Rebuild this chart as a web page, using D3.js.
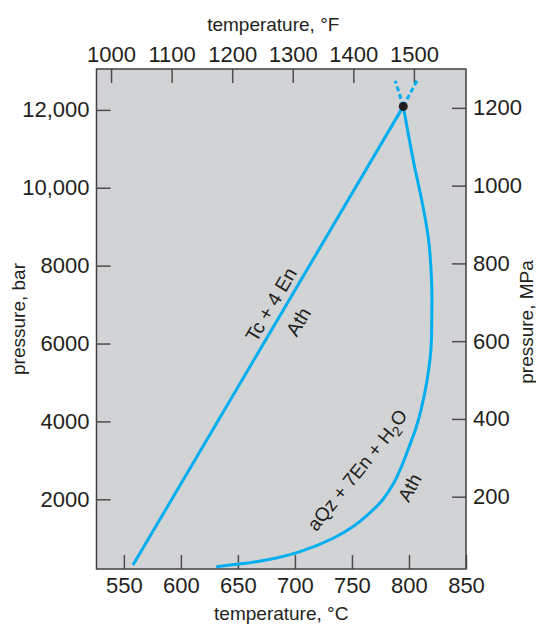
<!DOCTYPE html>
<html>
<head>
<meta charset="utf-8">
<script src="https://cdn.jsdelivr.net/npm/d3@7"></script>
<style>
    body { margin: 0; background: #fff; }
    svg { display: block; font-family: "Liberation Sans", Arial, sans-serif; }
</style>
</head>
<body>
<div id="chart"></div>
<script>
// axis ticks
const celsiusTicks = [550, 600, 650, 700, 750, 800, 850];
const fahrenheitTicks = [1000, 1100, 1200, 1300, 1400, 1500];
const barTicks = [2000, 4000, 6000, 8000, 10000, 12000];
const mpaTicks = [200, 400, 600, 800, 1000, 1200];

// reaction curves, [temperature °C, pressure bar]
const tcEnLine = [[558, 310], [795, 12090]];
const qzEnCurve = [
    [631, 270], [675, 440], [704.5, 655], [733.5, 1000], [751.4, 1310],
    [763, 1580], [777, 1990], [786.5, 2410], [794, 2880], [800, 3340],
    [806, 3820], [810.5, 4290], [815.5, 4990], [819.2, 5830],
    [820, 6690], [819.9, 7550], [817.2, 8660], [812, 9560],
    [804, 10670], [795, 12090]
];
const tcEnMetastable = [[795, 12090], [807, 12750]];
const qzEnMetastable = [[795, 12090], [788, 12750]];
const invariantPoint = [795, 12090];

const margin = { top: 69, right: 70, bottom: 56, left: 96.5 };
const width = 536 - margin.left - margin.right;
const height = 625 - margin.top - margin.bottom;

const svg = d3.select("#chart")
    .append("svg")
    .attr("width", 536)
    .attr("height", 625)
    .append("g")
    .attr("transform", `translate(${margin.left},${margin.top})`);

const x = d3.scaleLinear().domain([526, 850]).range([0, width]);
const xF = d3.scaleLinear().domain([976, 1586]).range([0, width]);
const y = d3.scaleLinear().domain([210, 13050]).range([height, 0]);
const yM = d3.scaleLinear().domain([14, 1300]).range([height, 0]);

const ink = "#231f20";
const tickColor = "#4d4d4f";
const blue = "#00aeef";

svg.append("rect")
    .attr("width", width)
    .attr("height", height)
    .attr("fill", "#d1d3d4");

const barFormat = d => d >= 10000 ? d3.format(",")(d) : String(d);

function styleAxis(g) {
    g.select(".domain").remove();
    g.selectAll(".tick line").attr("stroke", tickColor).attr("stroke-width", 1.5);
    g.selectAll(".tick text")
        .attr("fill", ink)
        .style("font-size", "22px")
        .style("font-family", "\"Liberation Sans\", Arial, sans-serif");
}

svg.append("g")
    .attr("transform", `translate(0,${height})`)
    .call(d3.axisBottom(x).tickValues(celsiusTicks).tickSize(-14).tickPadding(8))
    .call(styleAxis);

svg.append("g")
    .call(d3.axisTop(xF).tickValues(fahrenheitTicks).tickSize(-14).tickPadding(7).tickFormat(d3.format("d")))
    .call(styleAxis);

svg.append("g")
    .call(d3.axisLeft(y).tickValues(barTicks).tickSize(-14).tickPadding(7).tickFormat(barFormat))
    .call(styleAxis);

svg.append("g")
    .attr("transform", `translate(${width},0)`)
    .call(d3.axisRight(yM).tickValues(mpaTicks).tickSize(-14).tickPadding(7).tickFormat(d3.format("d")))
    .call(styleAxis);

svg.append("rect")
    .attr("width", width)
    .attr("height", height)
    .attr("fill", "none")
    .attr("stroke", "#414042")
    .attr("stroke-width", 1.5);

// axis titles
const titleSize = "19px";
svg.append("text")
    .attr("x", width / 2 - 8)
    .attr("y", -38)
    .attr("text-anchor", "middle")
    .attr("fill", ink)
    .style("font-size", titleSize)
    .text("temperature, °F");

svg.append("text")
    .attr("x", width / 2)
    .attr("y", height + 51)
    .attr("text-anchor", "middle")
    .attr("fill", ink)
    .style("font-size", titleSize)
    .text("temperature, °C");

svg.append("text")
    .attr("transform", `translate(${25 - margin.left},${height / 2}) rotate(-90)`)
    .attr("text-anchor", "middle")
    .attr("fill", ink)
    .style("font-size", titleSize)
    .text("pressure, bar");

svg.append("text")
    .attr("transform", `translate(${533 - margin.left},${height / 2 + 3}) rotate(-90)`)
    .attr("text-anchor", "middle")
    .attr("fill", ink)
    .style("font-size", titleSize)
    .text("pressure, MPa");

// curves
const line = d3.line()
    .x(d => x(d[0]))
    .y(d => y(d[1]));

svg.append("path")
    .datum(tcEnLine)
    .attr("d", line)
    .attr("fill", "none")
    .attr("stroke", blue)
    .attr("stroke-width", 3);

svg.append("path")
    .datum(qzEnCurve)
    .attr("d", line.curve(d3.curveCatmullRom.alpha(0.5)))
    .attr("fill", "none")
    .attr("stroke", blue)
    .attr("stroke-width", 3);

line.curve(d3.curveLinear);

[tcEnMetastable, qzEnMetastable].forEach(seg => {
    svg.append("path")
        .datum(seg)
        .attr("d", line)
        .attr("fill", "none")
        .attr("stroke", blue)
        .attr("stroke-width", 3)
        .attr("stroke-dasharray", "5,3");
});

svg.append("circle")
    .attr("cx", x(invariantPoint[0]))
    .attr("cy", y(invariantPoint[1]))
    .attr("r", 4.5)
    .attr("fill", ink);

// reaction labels
function label(t, p, angle, txt, size) {
    return svg.append("text")
        .attr("transform", `translate(${x(t)},${y(p)}) rotate(${angle})`)
        .attr("text-anchor", "middle")
        .attr("dy", "0.35em")
        .attr("fill", ink)
        .style("font-size", size)
        .text(txt);
}

label(679, 7000, -59.6, "Tc + 4 En", "19.5px");
label(703, 6560, -59.6, "Ath", "19.5px");

const qz = label(755, 2740, -51, "aQz + 7En + H", "19px");
qz.append("tspan").attr("dy", "0.3em").style("font-size", "14px").text("2");
qz.append("tspan").attr("dy", "-0.3em").text("O");
label(800.5, 2300, -62, "Ath", "19px");
</script>
</body>
</html>
